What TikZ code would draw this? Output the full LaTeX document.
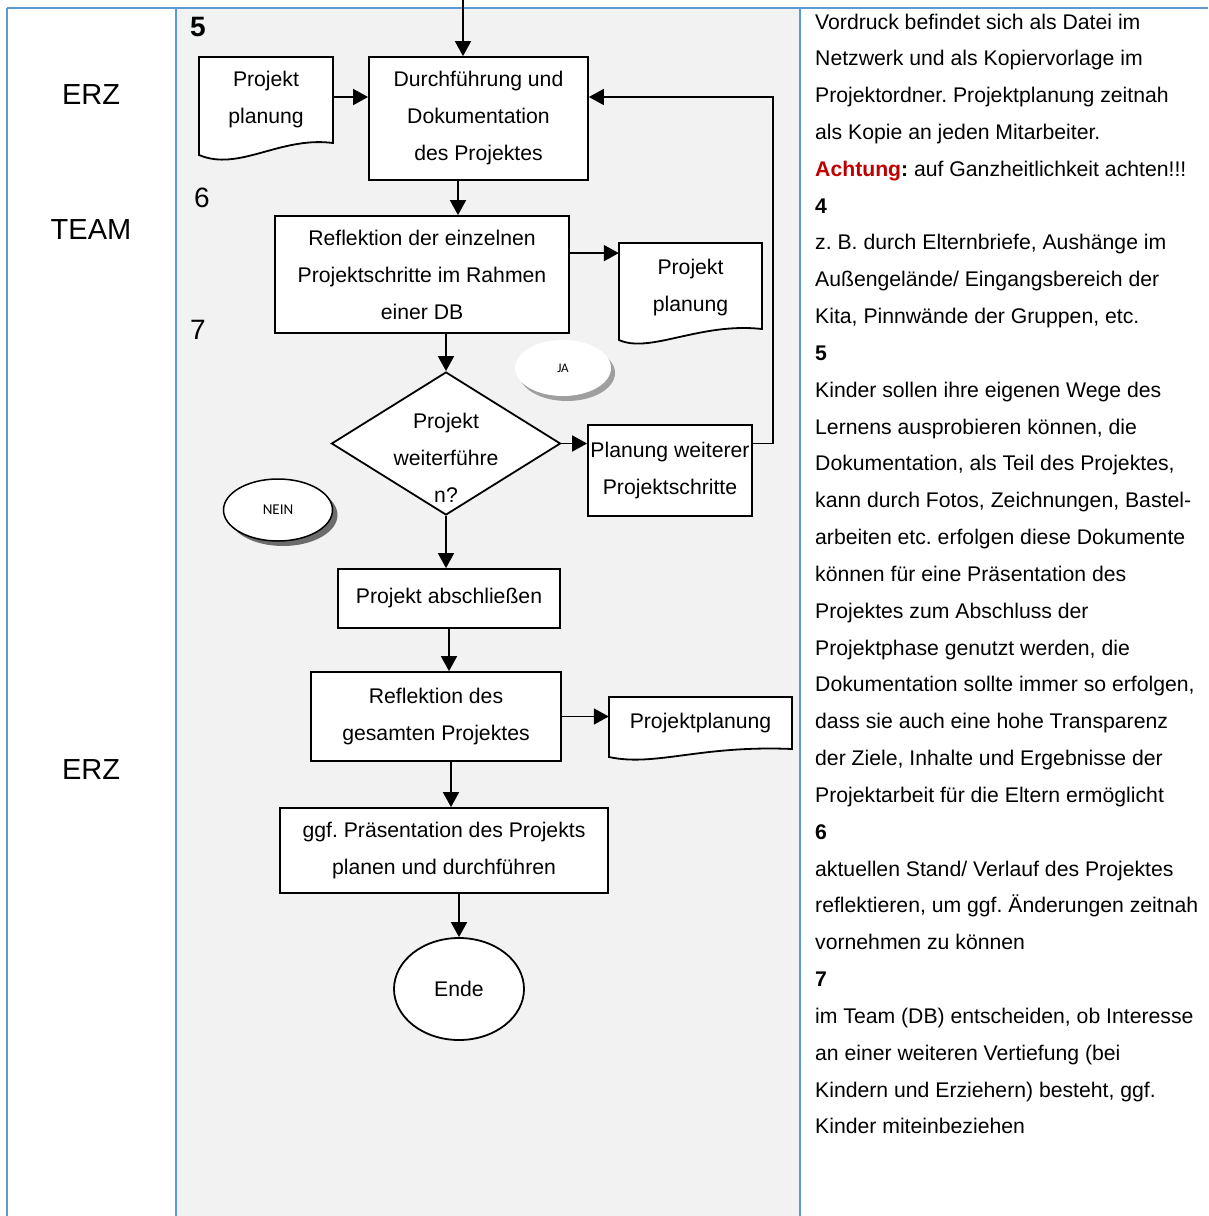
\documentclass[tikz,border=0pt]{standalone}
\usepackage{fontspec}
\setmainfont{Liberation Sans}
\newfontfamily\calfont{Carlito}
\usetikzlibrary{arrows.meta,shapes.geometric,shadows}
\definecolor{tblue}{RGB}{91,155,213}
\definecolor{lanegray}{RGB}{242,242,242}
\definecolor{warnred}{RGB}{192,0,0}
\frenchspacing

\begin{document}
\begin{tikzpicture}[x=1pt,y=-1pt,
  flow/.style={draw, line width=1.8pt, fill=white, inner sep=0pt, align=center,
               font=\fontsize{21.2}{37}\selectfont},
  plain/.style={inner sep=0pt, align=center, font=\fontsize{21.2}{37}\selectfont},
  docline/.style={draw, line width=1.8pt, fill=white},
  arr/.style={line width=1.8pt, -{Triangle[length=15pt,width=16pt]}},
  grid/.style={draw=tblue, line width=2pt},
  lane/.style={inner sep=0pt, font=\fontsize{29}{34}\selectfont},
  num/.style={inner sep=0pt, font=\fontsize{28}{32}\selectfont},
  note/.style={inner sep=0pt, anchor=base west, font=\fontsize{21.2}{37}\selectfont},
  answer/.style={ellipse, fill=white, inner sep=0pt, font=\calfont}
]
\useasboundingbox (0,0) rectangle (1208,1216);

% table: middle column shaded, blue rules
\fill[lanegray] (176,8) rectangle (800,1216);
\draw[grid] (7,8) -- (1208,8);
\draw[grid] (7,8) -- (7,1216);
\draw[grid] (176,8) -- (176,1216);
\draw[grid] (800,8) -- (800,1216);

% who is responsible
\node[lane] (l1) at (91,95) {ERZ};
\node[lane] (l2) at (91,230) {TEAM};
\node[lane] (l3) at (91,770) {ERZ};

% step numbers
\node[num] (n5) at (198,27) {\bfseries 5};
\node[num] (n6) at (202,198) {6};
\node[num] (n7) at (198,330) {7};

% document symbols (wavy lower edge)
\draw[docline] (199,57) -- (333,57) -- (333,143)
  .. controls (280,136) and (239,172) .. (199,155) -- cycle;
\draw[docline] (619,243) -- (762,243) -- (762,329)
  .. controls (700,322) and (650,354) .. (619,340) -- cycle;
\draw[docline] (609,697) -- (792,697) -- (792,749)
  .. controls (700,745) and (655,767) .. (609,757) -- cycle;
\node[plain, minimum width=134pt, minimum height=82pt] (d1) at (266,99.5) {Projekt\\planung};
\node[plain, minimum width=143pt, minimum height=87pt] (d2) at (690.5,287.5) {Projekt\\planung};
\node[plain, minimum width=183pt, minimum height=52pt] (d3) at (700.5,723) {Projektplanung};

% process boxes
\node[flow, minimum width=219pt, minimum height=123pt] (b1) at (478.5,118.5)
  {Durchführung und\\Dokumentation\\des Projektes};
\node[flow, minimum width=294pt, minimum height=117pt] (b2) at (422,274.5)
  {Reflektion der einzelnen\\Projektschritte im Rahmen\\einer DB};
\node[flow, minimum width=164pt, minimum height=91pt] (pl) at (670,470.5)
  {Planung weiterer\\Projektschritte};
\node[flow, minimum width=222pt, minimum height=59pt] (b3) at (449,598.5)
  {Projekt abschließen};
\node[flow, minimum width=250pt, minimum height=89pt] (b4) at (436,716.5)
  {Reflektion des\\gesamten Projektes};
\node[flow, minimum width=328pt, minimum height=85pt] (b5) at (444,850.5)
  {ggf. Präsentation des Projekts\\planen und durchführen};

% decision
\node[draw, line width=1.8pt, fill=white, diamond, inner sep=0pt, aspect=1.6,
      minimum width=229pt, minimum height=143pt] (dia) at (446,443.5) {};
\node[plain] (diat) at (446,458) {Projekt\\weiterführe\\n?};

% end
\node[draw, line width=1.8pt, fill=white, ellipse, inner sep=0pt,
      minimum width=130pt, minimum height=102pt, font=\fontsize{21.2}{25}\selectfont] (ende) at (459,989) {Ende};

% answer bubbles
\node[answer, minimum width=96pt, minimum height=56pt, font=\calfont\fontsize{13}{15}\selectfont,
      drop shadow={shadow xshift=4pt, shadow yshift=-5pt, fill=gray!75, opacity=1}] (ja) at (563,368) {JA};
\node[answer, draw, line width=1.5pt, minimum width=109pt, minimum height=62pt,
      font=\calfont\fontsize{15}{17}\selectfont,
      drop shadow={shadow xshift=5pt, shadow yshift=-5pt, fill=gray!85!black, opacity=1}] (nein) at (278,510) {NEIN};

% connectors
\coordinate (top) at (463,0);
\coordinate (loopc) at (773,97);
\coordinate (p1) at ([xshift=-20.5pt]b1.south);
\coordinate (p2) at ([yshift=-38pt]b2.north east);
\coordinate (p4) at ([xshift=15pt]b4.south);
\draw[arr] (top) -- (top |- b1.north);
\draw[arr] (d1.east |- loopc) -- (loopc -| b1.west);
\draw[arr] (pl.east |- dia.east) -- (loopc |- dia.east) -- (loopc) -- (loopc -| b1.east);
\draw[arr] (p1) -- (p1 |- b2.north);
\draw[arr] (p2) -- (p2 -| d2.west);
\draw[arr] (dia.north |- b2.south) -- (dia.north);
\draw[arr] (dia.east) -- (dia.east -| pl.west);
\draw[arr] (dia.south) -- (dia.south |- b3.north);
\draw[arr] (b3.south) -- (b3.south |- b4.north);
\draw[arr] (b4.east) -- (b4.east -| d3.west);
\draw[arr] (p4) -- (p4 |- b5.north);
\draw[arr] (ende.north |- b5.south) -- (ende.north);

% notes column
\foreach \t [count=\i from 0] in {
  {Vordruck befindet sich als Datei im},
  {Netzwerk und als Kopiervorlage im},
  {Projektordner. Projektplanung zeitnah},
  {als Kopie an jeden Mitarbeiter.},
  {\textcolor{warnred}{\bfseries Achtung}{\bfseries :} auf Ganzheitlichkeit achten!!!},
  {\bfseries 4},
  {z. B. durch Elternbriefe, Aushänge im},
  {Außengelände/ Eingangsbereich der},
  {Kita, Pinnwände der Gruppen, etc.},
  {\bfseries 5},
  {Kinder sollen ihre eigenen Wege des},
  {Lernens ausprobieren können, die},
  {Dokumentation, als Teil des Projektes,},
  {kann durch Fotos, Zeichnungen, Bastel-},
  {arbeiten etc. erfolgen diese Dokumente},
  {können für eine Präsentation des},
  {Projektes zum Abschluss der},
  {Projektphase genutzt werden, die},
  {Dokumentation sollte immer so erfolgen,},
  {dass sie auch eine hohe Transparenz},
  {der Ziele, Inhalte und Ergebnisse der},
  {Projektarbeit für die Eltern ermöglicht},
  {\bfseries 6},
  {aktuellen Stand/ Verlauf des Projektes},
  {reflektieren, um ggf. Änderungen zeitnah},
  {vornehmen zu können},
  {\bfseries 7},
  {im Team (DB) entscheiden, ob Interesse},
  {an einer weiteren Vertiefung (bei},
  {Kindern und Erziehern) besteht, ggf.},
  {Kinder miteinbeziehen}}
  \node[note] (r\i) at (815,{29+\i*36.83}) {\t};
\end{tikzpicture}
\end{document}
